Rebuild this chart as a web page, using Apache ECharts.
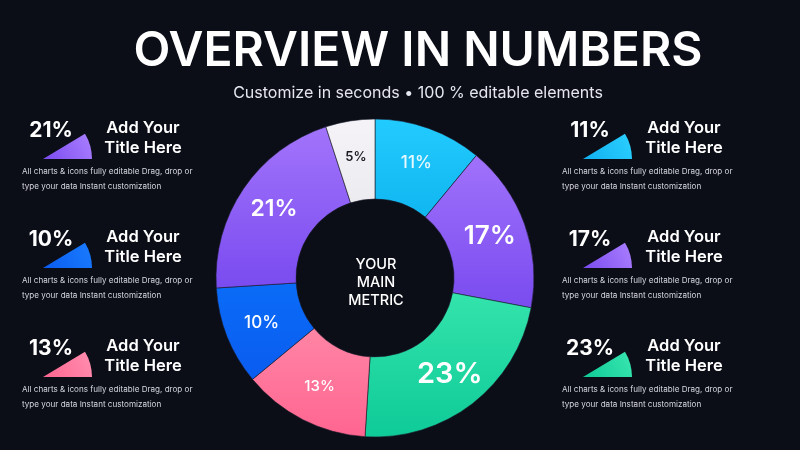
<!DOCTYPE html>
<html>
<head>
<meta charset="utf-8">
<script src="https://cdn.jsdelivr.net/npm/echarts@6/dist/echarts.min.js"></script>
<style>
html,body{margin:0;padding:0;background:#0b0d17;}
#main{width:800px;height:450px;}
</style>
</head>
<body>
<div id="main"></div>
<script>
// ---- data ----
var sliceValues = [11, 17, 23, 13, 10, 21, 5];
var sliceNames = ['A', 'B', 'C', 'D', 'E', 'F', 'G'];
var leftPanelValues = [21, 10, 13];
var rightPanelValues = [11, 17, 23];
var titleText = 'OVERVIEW IN NUMBERS';
var subtitleText = 'Customize in seconds \u2022 100 % editable elements';
var centerText = 'YOUR\nMAIN\nMETRIC';
var panelTitle = 'Add Your\nTitle Here';
var panelDesc = ['All charts & icons fully editable Drag, drop or', 'type your data Instant customization'];

// ---- styles ----
function grad(c1, c2) {
  return new echarts.graphic.LinearGradient(0, 0, 0, 1, [{offset: 0, color: c1}, {offset: 1, color: c2}]);
}
var sliceColors = [
  grad('#22cbff', '#10b6f0'),
  grad('#a072fb', '#7a4bef'),
  grad('#34e3ac', '#0ecb97'),
  grad('#ff85a5', '#ff6590'),
  grad('#0a6cf7', '#0a5cf0'),
  grad('#a274fb', '#7a4bef'),
  grad('#f5f3f7', '#ecebf0')
];
var labelSizes = [17, 26, 29, 15, 17, 23, 13];
var labelWeights = [500, 600, 600, 500, 500, 600, 600];
var labelColors = ['#e8f8ff', '#fff', '#fff', '#fff', '#fff', '#fff', '#1a1a22'];
var colorByValue = {
  21: ['#ab80ff', '#7a4bef'],
  10: ['#1a7cff', '#0a5cf0'],
  13: ['#ff8fb0', '#ff6590'],
  11: ['#2cd0ff', '#10b0ef'],
  17: ['#ab80ff', '#7a4bef'],
  23: ['#3ae6b0', '#0ecb97']
};

var pieData = sliceValues.map(function (v, i) {
  return {
    value: v,
    name: sliceNames[i],
    itemStyle: {color: sliceColors[i]},
    label: {fontSize: labelSizes[i], fontWeight: labelWeights[i], color: labelColors[i]}
  };
});

var graphics = [];
function addPanel(v, pctX, titleX, wedgeCx, descX, y) {
  var c = colorByValue[v];
  graphics.push({
    type: 'sector',
    shape: {cx: wedgeCx, cy: y + 28, r: 49, r0: 0, startAngle: -31 * Math.PI / 180, endAngle: 0, clockwise: true},
    style: {fill: new echarts.graphic.LinearGradient(1, 0, 0, 1, [{offset: 0, color: c[0]}, {offset: 1, color: c[1]}])}
  });
  graphics.push({
    type: 'text', x: pctX, y: y,
    style: {text: v + '%', fill: '#ffffff', font: '700 21px Inter', align: 'center', verticalAlign: 'middle'}
  });
  graphics.push({
    type: 'text', x: titleX, y: y + 7,
    style: {text: panelTitle, fill: '#ffffff', font: '600 16.5px Inter', align: 'center', verticalAlign: 'middle', lineHeight: 20}
  });
  for (var k = 0; k < panelDesc.length; k++) {
    graphics.push({
      type: 'text', x: descX, y: y + 41 + k * 15,
      style: {text: panelDesc[k], fill: '#d6d7df', font: '400 8.1px Inter', align: 'left', verticalAlign: 'middle'}
    });
  }
}
var rowYs = [131, 240, 349];
leftPanelValues.forEach(function (v, i) { addPanel(v, 51, 143, 43, 22, rowYs[i]); });
rightPanelValues.forEach(function (v, i) { addPanel(v, 590, 684, 583, 562, rowYs[i]); });

graphics.push({
  type: 'text', x: 418, y: 52,
  style: {text: titleText, fill: '#ffffff', font: '600 48px Inter', align: 'center', verticalAlign: 'middle'}
});
graphics.push({
  type: 'text', x: 418, y: 93,
  style: {text: subtitleText, fill: '#e6e7ee', font: '400 16px Inter', align: 'center', verticalAlign: 'middle'}
});
graphics.push({
  type: 'text', x: 376, y: 283,
  style: {text: centerText, fill: '#ffffff', font: '500 14.5px Inter', align: 'center', verticalAlign: 'middle', lineHeight: 18}
});

var chart = echarts.init(document.getElementById('main'));
chart.setOption({
  backgroundColor: '#0b0d17',
  animation: false,
  series: [{
    type: 'pie',
    center: [375, 278],
    radius: [79, 159],
    startAngle: 90,
    clockwise: true,
    silent: true,
    itemStyle: {borderColor: '#1a1b2a', borderWidth: 0.6},
    label: {show: true, position: 'inside', formatter: '{c}%', fontFamily: 'Inter'},
    labelLine: {show: false},
    data: pieData
  }],
  graphic: graphics
});
</script>
</body>
</html>
